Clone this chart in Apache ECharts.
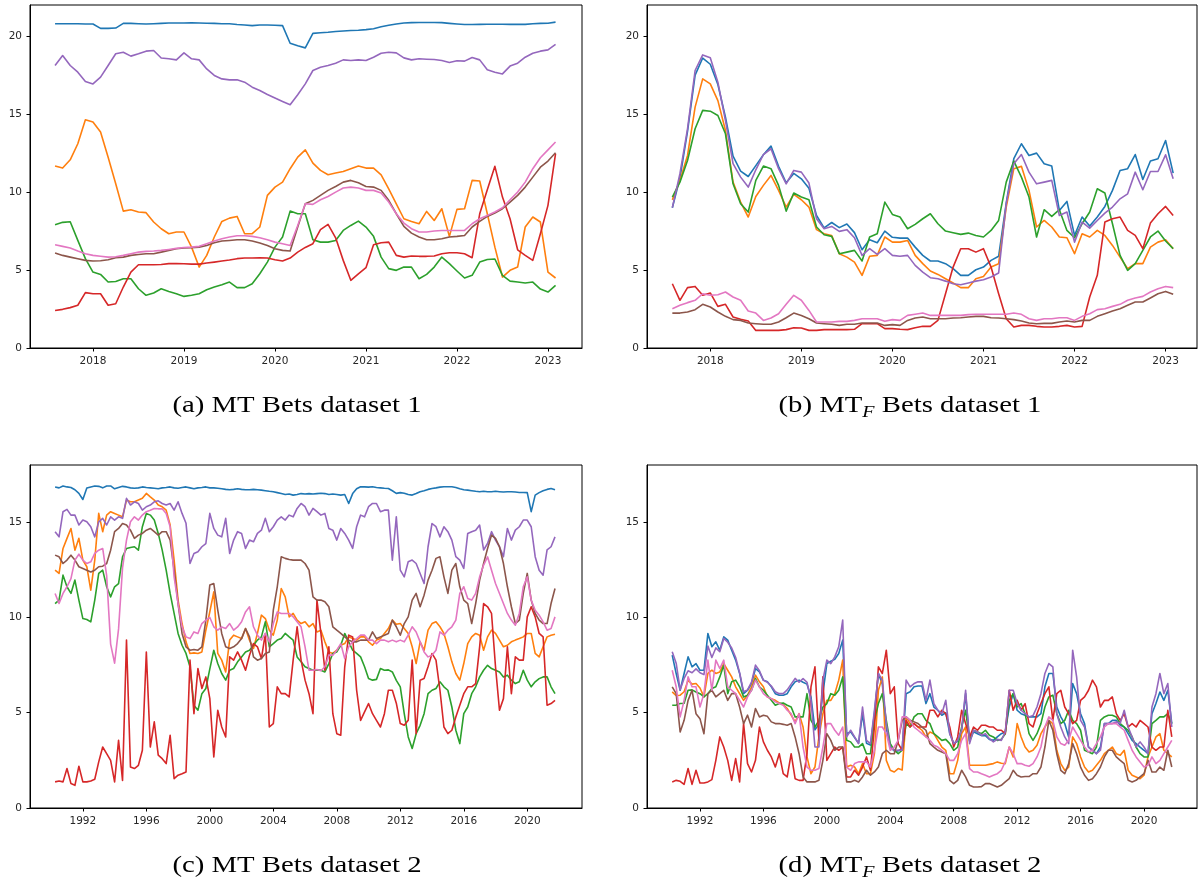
<!DOCTYPE html>
<html>
<head>
<meta charset="utf-8">
<script src="https://cdn.jsdelivr.net/npm/echarts@6/dist/echarts.min.js"></script>
<style>
html,body{margin:0;padding:0;background:#fff}
#chart{width:1198px;height:884px}
</style>
</head>
<body>
<div id="chart"></div>
<script>
// ---------- Dataset 1: monthly, Aug 2017 .. Feb 2023 ----------
const ds1Start = [2017, 8];
const ds1Count = 67;
// ---------- Dataset 2: quarterly, 1990 Q2 .. 2021 Q4 ----------
const ds2Start = 1990.25;
const ds2Step = 0.25;
const ds2Count = 127;

const xTicks1 = [2018, 2019, 2020, 2021, 2022, 2023];
const xTicks2 = [1992, 1996, 2000, 2004, 2008, 2012, 2016, 2020];
const yTicks1 = [0, 5, 10, 15, 20];
const yTicks2 = [0, 5, 10, 15];

const captions = ['(a) MT Bets dataset 1', '(b) MT|F| Bets dataset 1', '(c) MT Bets dataset 2', '(d) MT|F| Bets dataset 2'];

// (a) MT, dataset 1
const mt1_1 = [20.8,20.8,20.8,20.8,20.78,20.78,20.5,20.5,20.52,20.82, 20.82,20.8,20.78,20.8,20.82,20.85,20.85,20.85,20.86,20.85, 20.83,20.82,20.8,20.8,20.75,20.72,20.68,20.72,20.72,20.7, 20.68,19.55,19.38,19.25,20.18,20.22,20.25,20.3,20.33,20.36, 20.38,20.42,20.48,20.6,20.7,20.78,20.85,20.87,20.88,20.88, 20.88,20.87,20.82,20.78,20.75,20.75,20.76,20.77,20.77,20.77, 20.76,20.76,20.76,20.8,20.82,20.83,20.9];
const mt1_2 = [11.67,11.54,12.07,13.1,14.64,14.49,13.85,12.24,10.53,8.78, 8.87,8.72,8.68,8.08,7.65,7.33,7.44,7.44,6.47,5.19, 5.94,7.12,8.12,8.33,8.44,7.33,7.33,7.76,9.79,10.32, 10.64,11.5,12.24,12.71,11.86,11.39,11.11,11.22,11.32,11.5, 11.67,11.54,11.54,11.11,10.21,9.25,8.29,8.12,7.97,8.76, 8.18,8.93,7.16,8.89,8.93,10.75,10.71,8.61,6.47,4.55, 4.98,5.19,7.76,8.4,8.08,4.87,4.49];
const mt1_3 = [7.91,8.06,8.1,6.9,5.73,4.87,4.72,4.23,4.27,4.44, 4.44,3.8,3.38,3.53,3.8,3.63,3.48,3.31,3.38,3.48, 3.74,3.91,4.06,4.23,3.87,3.87,4.12,4.76,5.51,6.47, 7.12,8.78,8.61,8.61,6.94,6.79,6.79,6.9,7.54,7.86, 8.14,7.76,7.16,5.83,5.09,4.98,5.19,5.19,4.44,4.72, 5.19,5.83,5.41,4.94,4.49,4.66,5.51,5.68,5.71,4.66, 4.29,4.23,4.17,4.23,3.78,3.59,4.02];
const mt1_4 = [2.41,2.48,2.59,2.74,3.55,3.48,3.48,2.74,2.84,3.91, 4.87,5.34,5.34,5.34,5.36,5.41,5.41,5.4,5.38,5.38, 5.45,5.51,5.58,5.64,5.73,5.77,5.77,5.79,5.77,5.66, 5.58,5.77,6.15,6.45,6.69,7.59,7.93,7.07,5.62,4.34, 4.76,5.15,6.62,6.75,6.79,5.94,5.83,5.9,5.88,5.88, 5.9,6.05,6.11,6.11,6.05,5.79,8.61,10.15,11.65,9.68, 8.29,6.3,5.94,5.62,7.33,9.15,12.46];
const mt1_5 = [18.12,18.76,18.12,17.69,17.1,16.94,17.37,18.12,18.87,18.97, 18.72,18.87,19.04,19.08,18.6,18.55,18.48,18.93,18.55,18.48, 17.9,17.48,17.26,17.2,17.2,17.05,16.73,16.52,16.26,16.03, 15.81,15.6,16.24,16.94,17.8,18.01,18.12,18.27,18.48,18.44, 18.48,18.44,18.65,18.91,18.97,18.93,18.61,18.48,18.55,18.52, 18.5,18.44,18.31,18.42,18.4,18.63,18.48,17.84,17.69,17.58, 18.08,18.27,18.65,18.91,19.04,19.12,19.47];
const mt1_6 = [6.09,5.94,5.83,5.73,5.62,5.58,5.6,5.66,5.79,5.83, 5.94,6.0,6.05,6.05,6.15,6.26,6.37,6.41,6.43,6.47, 6.58,6.75,6.86,6.9,6.94,6.94,6.86,6.73,6.58,6.37, 6.26,6.22,7.76,9.25,9.47,9.79,10.11,10.36,10.64,10.75, 10.6,10.36,10.32,10.11,9.47,8.61,7.8,7.37,7.12,6.94, 6.94,7.01,7.12,7.16,7.22,7.76,8.12,8.44,8.65,8.93, 9.36,9.79,10.32,10.96,11.6,11.99,12.52];
const mt1_7 = [6.62,6.52,6.41,6.22,6.05,5.94,5.88,5.83,5.85,5.94, 6.05,6.15,6.2,6.22,6.26,6.32,6.39,6.45,6.47,6.52, 6.69,6.86,7.01,7.12,7.2,7.2,7.16,7.07,6.94,6.79, 6.69,6.58,7.86,9.25,9.21,9.51,9.72,10.0,10.26,10.32, 10.26,10.11,10.11,9.94,9.36,8.61,8.01,7.65,7.44,7.44, 7.5,7.54,7.54,7.54,7.54,7.97,8.29,8.5,8.72,9.0, 9.51,10.0,10.64,11.5,12.2,12.71,13.21];

// (b) MT_F, dataset 1
const mtf1_1 = [9.0,10.9,13.9,17.5,18.6,18.2,16.9,14.8,12.3,11.35, 11.0,11.7,12.4,12.95,11.65,10.6,11.2,10.85,10.25,8.5, 7.7,8.05,7.72,7.95,7.4,6.3,6.95,6.75,7.5,7.1, 7.05,7.05,6.47,5.94,5.58,5.58,5.41,5.09,4.66,4.66, 5.02,5.19,5.62,5.88,9.3,12.14,13.1,12.35,12.5,11.82, 11.67,8.82,9.4,7.22,8.4,7.82,8.4,9.08,10.11,11.39, 11.5,12.41,10.81,11.99,12.14,13.31,11.22];
const mtf1_2 = [9.5,10.75,12.35,15.45,17.26,16.94,15.87,13.95,10.64,9.36, 8.4,9.72,10.43,11.07,10.11,9.04,9.85,9.51,9.04,7.59, 7.33,7.22,6.05,5.83,5.51,4.66,5.88,5.94,7.12,6.79, 6.79,6.9,5.94,5.41,4.94,4.72,4.44,4.17,3.87,3.87, 4.44,4.59,5.19,5.41,9.04,11.5,11.65,10.11,7.76,8.18, 7.76,7.12,7.07,6.05,7.33,7.12,7.54,7.22,6.58,5.83, 5.09,5.41,5.41,6.47,6.79,6.94,6.37];
const mtf1_3 = [9.68,10.64,12.03,14.06,15.24,15.19,14.91,13.74,10.53,9.25, 8.72,10.75,11.67,11.5,10.43,8.78,9.94,9.68,9.51,7.76, 7.26,7.16,6.05,6.15,6.26,5.58,7.12,7.33,9.36,8.57, 8.4,7.65,7.93,8.29,8.61,7.97,7.5,7.39,7.29,7.37, 7.22,7.12,7.54,8.18,10.64,11.99,10.96,9.68,7.12,8.87, 8.44,8.87,7.54,7.07,7.97,8.72,10.21,9.94,7.97,5.94, 4.98,5.41,6.26,7.12,7.5,6.86,6.37];
const mtf1_4 = [4.12,3.06,3.87,3.95,3.38,3.53,2.67,2.8,1.99,1.84, 1.73,1.13,1.13,1.13,1.13,1.18,1.3,1.28,1.13,1.13, 1.18,1.18,1.18,1.18,1.2,1.56,1.56,1.56,1.24,1.24, 1.2,1.18,1.3,1.39,1.39,1.77,3.48,5.19,6.37,6.37, 6.15,6.37,5.19,3.48,1.88,1.35,1.45,1.45,1.39,1.35, 1.35,1.39,1.45,1.35,1.39,3.27,4.66,8.08,8.29,8.4, 7.54,7.22,6.37,8.01,8.61,9.08,8.5];
const mtf1_5 = [9.0,11.18,14.06,17.8,18.8,18.61,17.05,14.59,11.82,10.96, 10.32,11.43,12.41,12.78,11.5,10.53,11.39,11.28,10.58,8.29, 7.65,7.8,7.48,7.59,7.07,5.94,6.37,6.0,6.37,5.94, 5.88,5.94,5.3,4.87,4.51,4.44,4.29,4.12,4.06,4.17, 4.29,4.38,4.55,4.81,9.25,11.82,12.41,11.28,10.53,10.64, 10.75,8.5,8.72,6.79,8.08,7.69,8.18,8.65,9.04,9.57, 9.89,11.28,10.15,11.32,11.32,12.39,10.85];
const mtf1_6 = [2.24,2.24,2.31,2.46,2.8,2.63,2.31,2.03,1.82,1.77, 1.6,1.56,1.52,1.52,1.67,1.94,2.24,2.09,1.88,1.6, 1.56,1.52,1.45,1.52,1.52,1.6,1.6,1.6,1.45,1.5, 1.45,1.77,1.92,1.99,1.88,1.88,1.88,1.92,1.94,1.99, 2.03,2.03,1.94,1.92,1.88,1.82,1.73,1.6,1.56,1.58, 1.58,1.67,1.73,1.67,1.77,1.77,2.03,2.2,2.37,2.52, 2.74,2.95,2.95,3.21,3.48,3.63,3.44];
const mtf1_7 = [2.52,2.74,2.91,3.06,3.48,3.38,3.42,3.59,3.27,3.06, 2.37,2.24,1.77,1.92,2.2,2.8,3.38,3.06,2.41,1.67, 1.67,1.67,1.71,1.71,1.77,1.88,1.88,1.88,1.71,1.82, 1.77,2.09,2.16,2.24,2.09,2.09,2.09,2.09,2.09,2.14, 2.16,2.16,2.16,2.16,2.16,2.24,2.16,1.88,1.77,1.88, 1.88,1.94,1.94,1.77,2.03,2.2,2.46,2.52,2.67,2.8, 3.06,3.21,3.31,3.59,3.8,3.95,3.87];

// (c) MT, dataset 2
const mt2_1 = [16.85,16.8,16.9,16.85,16.82,16.7,16.51,16.19,16.79,16.85, 16.9,16.88,16.8,16.9,16.9,16.75,16.82,16.88,16.85,16.8, 16.78,16.8,16.85,16.82,16.8,16.78,16.75,16.8,16.82,16.85, 16.8,16.78,16.82,16.85,16.8,16.75,16.8,16.82,16.85,16.8, 16.8,16.78,16.75,16.72,16.7,16.72,16.75,16.72,16.7,16.7, 16.72,16.7,16.68,16.65,16.62,16.6,16.55,16.5,16.45,16.48, 16.42,16.45,16.5,16.48,16.5,16.48,16.5,16.52,16.5,16.45, 16.48,16.45,16.42,16.45,15.98,16.5,16.75,16.86,16.85,16.84, 16.86,16.82,16.8,16.78,16.77,16.65,16.51,16.55,16.52,16.45, 16.42,16.5,16.6,16.65,16.72,16.77,16.8,16.84,16.86,16.86, 16.86,16.82,16.75,16.7,16.68,16.65,16.62,16.6,16.62,16.6, 16.6,16.62,16.6,16.58,16.6,16.6,16.58,16.56,16.56,16.55, 15.55,16.42,16.55,16.65,16.72,16.77,16.7];
const mt2_2 = [12.48,12.31,13.62,14.15,14.67,13.53,14.15,13.01,12.66,11.43, 13.01,15.46,14.5,15.37,15.55,15.46,15.37,15.28,16.16,16.07, 16.07,16.16,16.25,16.51,16.33,16.16,15.9,15.81,15.63,14.85, 13.01,10.91,9.68,8.72,8.11,8.14,8.11,8.19,9.33,10.3, 11.34,8.11,7.76,7.14,8.81,9.07,8.98,8.89,9.42,8.81, 8.37,9.16,10.12,9.94,9.33,9.07,9.86,11.52,11.08,10.03, 10.21,9.86,9.68,9.77,9.51,9.68,9.24,9.33,8.72,8.19, 8.11,8.28,8.54,8.63,8.98,8.89,8.81,8.98,8.98,8.72, 8.54,8.81,8.89,9.16,9.42,9.86,9.64,9.68,9.42,9.16, 8.46,7.58,8.72,8.28,9.33,9.68,9.77,9.51,9.16,8.46, 7.67,7.06,6.71,7.58,8.63,8.98,9.16,9.07,8.28,8.98, 9.33,9.16,8.81,8.46,8.54,8.72,8.81,8.89,8.98,9.16, 9.16,8.11,7.93,8.46,8.98,9.07,9.12];
const mt2_3 = [10.73,10.91,12.22,11.61,11.26,11.96,10.91,9.94,9.89,9.77, 10.91,12.31,12.48,11.61,11.08,11.61,11.78,13.18,13.62,13.67, 13.71,13.53,14.76,15.46,15.37,15.11,14.41,13.53,12.48,11.26, 10.21,9.16,8.54,8.11,7.41,5.39,5.13,6.0,6.27,7.3, 8.28,7.58,7.06,6.71,7.23,7.32,7.67,7.93,8.19,8.28, 8.54,8.81,8.98,9.77,8.46,8.63,8.81,8.89,9.16,8.98, 8.81,7.93,7.67,7.41,7.32,7.23,7.25,7.23,7.14,7.58, 8.11,8.19,8.54,9.16,8.72,8.28,8.11,7.93,7.41,6.79, 6.71,6.75,7.32,7.23,7.25,7.14,6.7,6.36,4.95,3.73, 3.12,3.9,4.34,4.95,6.0,6.18,6.27,6.62,6.36,6.18, 5.3,4.08,3.38,4.95,5.3,6.0,6.36,6.88,7.23,7.49, 7.32,7.23,7.14,6.88,6.97,6.71,6.53,6.62,7.23,6.71, 6.36,6.62,6.79,6.88,6.88,6.36,6.0];
const mt2_4 = [1.37,1.42,1.37,2.07,1.28,1.19,2.19,1.37,1.37,1.42, 1.51,2.42,3.2,2.85,2.5,1.37,3.55,1.45,8.81,2.15, 2.07,2.24,3.03,8.19,3.2,4.52,2.77,2.59,2.33,3.82, 1.54,1.72,1.8,1.89,7.76,4.95,7.32,6.27,6.88,5.74, 2.68,5.13,4.25,3.73,7.93,7.76,8.19,7.76,7.23,8.02, 8.63,8.46,7.84,9.16,4.25,4.43,6.36,6.0,6.0,5.83, 7.76,9.51,7.76,6.71,6.0,4.95,10.91,9.16,7.23,8.46, 4.95,3.9,3.82,7.41,9.07,8.98,6.18,4.6,5.04,5.48, 4.95,4.6,4.25,4.95,6.18,6.18,5.5,4.43,4.34,4.6, 7.76,3.9,6.71,6.79,7.41,8.11,7.76,6.18,4.25,3.9, 4.08,4.78,5.39,6.0,6.36,6.36,6.53,8.46,10.73,10.56, 10.21,7.41,5.13,5.74,8.46,6.0,7.93,7.76,7.76,10.03, 10.56,10.03,9.16,8.98,5.39,5.48,5.65];
const mt2_5 = [14.5,14.23,15.55,15.67,15.37,15.37,14.85,15.11,15.02,14.76, 14.23,15.02,15.2,14.85,15.28,15.11,15.28,15.2,16.25,15.9, 16.07,15.98,15.63,15.81,15.9,16.07,16.12,15.98,15.9,15.98, 15.63,16.07,15.46,14.94,12.83,13.36,13.45,13.71,13.88,15.46, 14.67,14.32,14.23,15.2,13.36,14.06,14.5,14.41,13.62,14.06, 13.97,14.41,14.58,15.2,14.5,14.76,15.11,15.28,15.11,15.37, 15.28,15.72,15.98,15.81,15.37,15.72,15.55,15.37,15.46,14.67, 14.58,14.06,14.67,14.41,14.06,13.62,14.76,15.37,15.28,15.81, 15.98,15.98,15.55,15.63,15.63,13.01,15.28,12.48,12.13,12.92, 13.01,12.83,12.31,11.78,13.71,14.93,14.76,14.23,14.76,14.5, 14.06,13.19,13.01,12.57,14.41,14.5,14.58,14.85,13.54,13.88, 14.5,14.06,13.71,13.19,14.67,14.06,14.58,14.76,15.11,15.11, 14.76,13.19,12.48,12.22,13.54,13.71,14.23];
const mt2_6 = [13.27,13.18,12.83,13.01,13.27,13.01,12.66,12.57,12.48,12.39, 12.48,12.66,12.69,12.83,13.53,14.5,14.67,14.93,14.85,14.58, 14.15,14.32,14.41,14.58,14.67,14.5,14.32,14.5,14.5,14.06, 12.48,10.73,9.16,8.46,8.28,8.32,8.28,8.46,9.86,11.7, 11.78,10.38,9.16,8.46,8.37,8.46,8.63,8.89,9.42,8.98, 7.93,7.76,7.84,8.11,8.19,10.38,11.61,13.18,13.1,13.04, 13.01,13.01,13.01,12.83,12.48,11.08,10.91,10.91,10.82,10.56, 9.51,9.33,9.16,8.98,8.81,8.72,8.72,8.81,8.81,8.81, 9.24,8.89,8.98,9.07,9.16,9.86,9.51,9.07,9.68,10.03, 10.91,11.26,10.56,11.17,11.96,12.48,13.1,13.18,12.13,11.26, 12.48,12.83,11.61,10.91,10.73,9.68,10.73,11.96,12.83,13.62, 14.32,14.15,13.71,12.83,11.61,10.56,9.68,9.86,11.26,12.31, 10.91,10.21,9.86,9.68,9.68,10.73,11.52];
const mt2_7 = [11.26,10.73,11.26,11.61,12.04,13.01,13.32,13.01,12.83,12.92, 13.36,13.53,13.62,12.2,8.6,7.6,9.4,12.6,14.06,15.02, 15.28,15.11,15.37,15.55,15.63,15.72,15.7,15.7,15.46,14.76, 12.13,10.73,9.51,8.98,8.89,9.24,9.16,9.68,9.86,10.0, 9.51,9.33,9.5,9.42,9.68,9.33,9.5,9.77,10.29,10.56, 9.51,9.07,8.81,9.16,8.72,9.68,10.29,10.21,10.21,10.21, 10.03,9.77,9.51,8.46,7.23,7.23,7.27,7.2,7.41,8.02, 8.02,8.28,8.63,7.84,8.46,8.72,8.89,9.07,9.07,8.81, 8.81,8.63,8.81,8.81,8.72,8.81,8.72,8.81,8.72,9.07, 9.51,9.24,8.72,8.19,7.93,8.02,8.28,9.24,9.07,9.33, 9.51,9.86,11.26,11.61,10.99,10.91,11.26,12.13,12.75,13.18, 12.48,11.78,11.26,10.73,10.21,9.86,9.59,10.21,11.61,12.13, 10.91,10.38,10.12,9.77,9.33,9.42,10.03];

// (d) MT_F, dataset 2
const mtf2_1 = [8.02,7.06,6.18,7.06,7.93,7.41,7.58,7.23,7.23,9.16, 8.46,8.72,8.28,8.98,8.81,8.28,7.76,7.06,6.0,6.18, 6.53,7.32,7.14,6.71,6.62,6.36,6.0,5.92,5.92,6.0, 6.36,6.62,6.71,6.6,6.5,5.83,4.1,4.4,6.0,7.58, 7.7,7.8,8.11,8.81,3.9,4.0,3.7,3.4,4.95,3.4, 3.3,4.95,7.06,6.5,4.2,3.2,3.0,3.0,3.1,6.0, 6.1,6.36,6.4,6.4,5.48,6.0,5.3,5.13,4.87,5.0, 3.9,3.4,3.5,4.1,6.0,3.5,4.0,3.9,3.8,3.8, 3.6,3.55,3.73,3.9,3.99,5.3,6.0,5.13,4.95,4.87, 4.78,4.78,4.78,4.95,6.36,7.06,7.06,5.3,4.78,4.43, 3.73,6.53,6.0,4.95,4.43,3.2,3.03,2.85,3.2,4.43, 4.43,4.6,4.6,4.34,4.25,3.9,3.55,3.38,3.2,3.03, 2.85,4.95,5.48,6.09,5.65,6.18,4.43];
const mtf2_2 = [6.09,5.9,5.92,6.1,6.7,6.5,6.53,6.3,5.83,7.06, 7.23,7.06,7.14,7.58,7.23,6.88,6.36,6.0,5.65,5.92, 6.36,6.97,6.62,6.36,5.83,5.74,5.65,5.51,5.43,5.22, 4.87,4.52,4.95,4.25,2.68,1.8,2.15,3.73,4.95,5.65, 5.65,6.0,6.71,7.76,2.15,2.24,2.15,1.8,2.33,1.8, 1.8,2.85,6.18,6.88,2.5,1.98,1.89,2.07,2.0,4.78, 4.43,4.43,4.25,4.08,3.73,3.99,3.9,3.55,3.2,3.03, 1.8,1.8,2.5,3.9,4.25,2.24,2.24,2.24,2.24,2.24, 2.29,2.33,2.42,2.35,2.33,3.2,2.68,4.43,3.73,3.2, 2.94,3.03,3.29,3.9,4.25,4.6,4.43,3.03,2.33,1.98, 2.15,3.73,3.38,2.68,2.15,1.89,1.98,2.24,2.5,2.85, 3.03,3.2,2.85,2.77,3.03,1.98,1.72,1.63,1.54,1.72, 2.68,3.2,3.73,3.9,3.03,2.85,2.68];
const mtf2_3 = [5.39,5.4,5.48,5.5,6.18,6.2,6.09,6.0,5.83,6.0, 6.27,6.36,6.88,7.49,6.0,6.62,6.71,6.36,5.83,5.92, 6.18,6.79,6.36,6.18,5.92,5.65,5.39,5.48,5.51,5.39, 5.3,4.78,4.78,4.78,6.0,4.6,4.25,4.6,5.3,5.48, 6.0,5.92,6.18,6.88,3.55,3.47,3.2,3.2,3.38,2.85, 2.85,4.6,5.48,6.0,4.6,3.38,3.03,2.85,3.03,4.43, 4.25,4.78,4.95,4.95,4.6,4.43,3.9,3.73,3.55,3.6, 3.38,3.03,3.2,4.25,5.13,3.55,4.08,3.99,3.9,4.08, 3.82,3.73,3.55,3.6,3.9,5.65,6.0,5.3,5.48,4.95, 3.9,3.55,3.9,4.43,5.3,5.83,5.92,4.95,4.43,4.6, 5.13,4.6,4.43,4.08,3.03,2.94,2.85,3.2,4.6,4.78, 4.87,4.87,4.78,4.43,4.25,4.08,3.73,3.2,2.85,2.68, 2.68,4.43,4.6,4.78,4.78,4.95,4.43];
const mtf2_4 = [1.37,1.45,1.4,1.24,2.07,1.24,1.98,1.31,1.31,1.37, 1.49,2.5,3.73,3.2,2.5,1.45,2.59,1.37,4.43,2.33, 1.89,2.5,4.25,3.47,3.03,2.68,2.15,2.85,1.8,1.63, 2.85,1.54,1.45,1.45,2.85,6.36,7.41,3.55,6.88,2.5, 2.85,3.2,3.03,3.2,1.63,1.63,1.98,1.72,2.15,2.68, 1.98,4.25,7.41,7.06,8.28,6.0,6.36,3.38,3.03,4.6, 4.25,4.43,4.25,4.25,4.25,5.13,5.13,4.78,5.13,4.95, 4.25,3.2,3.73,5.13,4.43,3.73,4.25,4.08,4.34,4.34, 4.25,4.25,4.08,4.08,3.9,6.18,5.13,5.65,5.13,5.48, 4.43,4.25,4.95,5.48,6.0,6.36,4.6,6.0,6.18,5.3, 4.95,4.43,4.6,5.65,5.83,6.18,6.71,6.36,5.3,5.65, 5.65,5.83,4.95,4.6,4.95,4.25,4.43,4.25,4.6,4.43, 4.25,3.2,3.03,3.2,3.2,5.13,3.73];
const mtf2_5 = [8.2,7.6,6.2,6.8,7.2,7.1,7.3,7.1,7.0,8.5, 7.9,8.4,8.2,8.9,8.7,8.4,7.9,7.1,6.1,6.2, 6.6,7.5,7.2,6.7,6.6,6.4,6.1,6.0,6.0,6.2, 6.5,6.8,6.6,6.79,6.6,5.65,3.2,3.2,6.71,7.76, 7.58,7.93,8.46,9.86,3.73,4.08,3.73,3.38,5.3,3.55, 3.38,5.13,7.06,6.71,4.43,3.2,3.03,3.03,3.03,6.71, 6.36,6.53,6.62,6.62,5.65,6.71,5.48,5.13,4.95,5.65, 3.9,3.38,3.55,4.08,6.18,3.38,4.08,3.99,3.82,3.9, 3.64,3.47,3.6,3.55,3.99,6.18,6.18,5.48,5.13,4.95, 4.78,4.85,5.3,6.0,7.06,7.58,7.41,4.95,4.25,3.73, 3.38,8.28,6.88,4.6,4.25,3.2,3.03,2.85,3.03,4.43, 4.43,4.43,4.52,4.45,5.13,4.25,3.73,3.2,3.47,3.2, 2.85,5.3,6.0,7.06,6.0,6.53,4.25];
const mtf2_6 = [6.36,6.0,3.99,4.6,5.65,6.18,4.95,4.69,3.9,6.0, 6.18,5.83,6.0,6.18,5.65,6.0,6.0,5.3,4.43,4.87, 4.25,5.22,4.78,4.87,4.81,4.52,4.43,4.43,4.39,4.34, 4.43,3.73,2.85,1.63,1.37,1.37,1.37,1.45,2.5,3.9, 3.55,3.03,3.2,3.2,1.37,1.37,1.45,1.37,1.63,1.98, 1.72,1.89,2.15,2.85,3.03,2.85,2.85,3.55,4.6,4.78, 4.6,4.52,4.43,4.25,4.08,3.38,3.2,3.03,2.94,2.85, 1.45,1.28,1.45,1.98,1.63,1.19,1.1,1.1,1.12,1.28, 1.28,1.19,1.1,1.19,1.37,1.54,1.98,1.72,1.63,1.65, 1.65,1.8,1.8,2.15,3.2,4.6,4.08,2.85,1.98,1.8, 2.33,3.38,2.85,2.15,1.72,1.45,1.54,1.8,2.15,2.68, 3.03,3.03,2.68,2.5,2.33,1.45,1.37,1.45,1.63,1.8, 2.5,1.89,1.89,2.15,1.98,3.03,2.15];
const mtf2_7 = [7.23,6.36,4.78,5.65,6.88,6.36,6.36,5.3,6.0,7.76, 6.18,7.76,7.32,7.76,6.36,6.18,6.0,5.65,5.3,5.83, 6.18,6.71,6.36,6.0,5.83,5.74,5.57,5.48,5.39,5.13, 4.95,4.43,4.95,3.2,2.15,1.98,1.98,2.07,3.2,4.43, 4.43,4.08,3.82,4.25,2.15,1.98,2.33,2.42,2.42,2.42, 2.15,3.03,4.25,4.25,3.9,3.03,3.2,3.55,4.78,4.78, 4.6,4.25,4.08,3.9,3.73,3.55,3.29,3.2,3.03,2.85, 2.5,2.5,2.85,3.55,3.9,2.07,1.89,1.89,1.8,1.72, 1.63,1.72,1.8,1.98,2.42,3.2,2.85,2.33,2.33,2.24, 2.19,2.33,2.68,3.2,4.25,4.78,4.6,3.73,3.38,3.29, 3.55,4.25,3.9,3.55,3.2,2.94,3.03,3.38,3.73,4.25, 4.43,4.43,4.43,4.25,4.08,3.55,3.03,2.68,2.42,2.15, 2.24,2.68,2.33,2.5,2.85,3.2,3.55];

// ---------- chart assembly ----------
const palette = ['#1f77b4', '#ff7f0e', '#2ca02c', '#d62728', '#9467bd', '#8c564b', '#e377c2'];

const ds1X = [];
for (let i = 0; i < ds1Count; i++) ds1X.push(ds1Start[0] + (ds1Start[1] - 1 + i) / 12);
const ds2X = [];
for (let i = 0; i < ds2Count; i++) ds2X.push(ds2Start + i * ds2Step);

const panels = [
  { grid: { left: 30, top: 5, width: 552, height: 343 }, x: [2017.308, 2023.374], y: 22, xt: xTicks1, yt: yTicks1, xs: ds1X,
    series: [mt1_1, mt1_2, mt1_3, mt1_4, mt1_5, mt1_6, mt1_7] },
  { grid: { left: 647, top: 5, width: 550, height: 343 }, x: [2017.305, 2023.345], y: 22, xt: xTicks1, yt: yTicks1, xs: ds1X,
    series: [mtf1_1, mtf1_2, mtf1_3, mtf1_4, mtf1_5, mtf1_6, mtf1_7] },
  { grid: { left: 30, top: 465, width: 552, height: 343 }, x: [1988.67, 2023.45], y: 18, xt: xTicks2, yt: yTicks2, xs: ds2X,
    series: [mt2_1, mt2_2, mt2_3, mt2_4, mt2_5, mt2_6, mt2_7] },
  { grid: { left: 647, top: 465, width: 550, height: 343 }, x: [1988.66, 2023.34], y: 18, xt: xTicks2, yt: yTicks2, xs: ds2X,
    series: [mtf2_1, mtf2_2, mtf2_3, mtf2_4, mtf2_5, mtf2_6, mtf2_7] }
];

const tickFont = { fontFamily: 'DejaVu Sans', fontSize: 10.5, color: '#262626' };
const grids = [], xAxes = [], yAxes = [], series = [];
panels.forEach((p, gi) => {
  grids.push(Object.assign({ show: true, borderColor: '#000', borderWidth: 1, backgroundColor: '#fff' }, p.grid));
  xAxes.push({
    type: 'value', gridIndex: gi, min: p.x[0], max: p.x[1],
    axisLine: { show: true, lineStyle: { color: '#000', width: 1 } },
    splitLine: { show: false },
    axisTick: { show: true, length: 3.5, lineStyle: { color: '#000', width: 1 }, customValues: p.xt },
    axisLabel: Object.assign({ customValues: p.xt, formatter: v => String(v), margin: 8 }, tickFont)
  });
  yAxes.push({
    type: 'value', gridIndex: gi, min: 0, max: p.y,
    axisLine: { show: true, lineStyle: { color: '#000', width: 1 } },
    splitLine: { show: false },
    axisTick: { show: true, length: 3.5, lineStyle: { color: '#000', width: 1 }, customValues: p.yt },
    axisLabel: Object.assign({ customValues: p.yt, formatter: v => String(v), margin: 8 }, tickFont)
  });
  p.series.forEach((vals, si) => {
    series.push({
      type: 'line', xAxisIndex: gi, yAxisIndex: gi,
      data: vals.map((v, k) => [p.xs[k], v]),
      showSymbol: false, symbol: 'none', silent: true,
      lineStyle: { color: palette[si], width: 1.6, join: 'round' },
      z: 2 + si
    });
  });
});

// captions under each panel; "|F|" marks a subscript
const capPos = [[297, 406], [910, 406], [297, 866], [910, 866]];
const graphics = captions.map((c, k) => {
  const parts = c.split('|');
  let text = '{n|' + parts[0] + '}';
  if (parts.length > 1) text += '{s|' + parts[1] + '}{n|' + parts[2] + '}';
  return {
    type: 'text', x: capPos[k][0], y: capPos[k][1], scaleX: 1.25, silent: true,
    style: {
      text: text, textAlign: 'center', textVerticalAlign: 'middle',
      rich: {
        n: { fontFamily: 'Liberation Serif', fontSize: 23, lineHeight: 30, fill: '#000', color: '#000' },
        s: { fontFamily: 'Liberation Serif', fontStyle: 'italic', fontSize: 16, lineHeight: 16, verticalAlign: 'bottom', fill: '#000', color: '#000' }
      }
    }
  };
});

const chart = echarts.init(document.getElementById('chart'), null, { renderer: 'canvas' });
chart.setOption({
  animation: false,
  backgroundColor: '#fff',
  grid: grids, xAxis: xAxes, yAxis: yAxes, series: series,
  graphic: graphics
});
</script>
</body>
</html>
